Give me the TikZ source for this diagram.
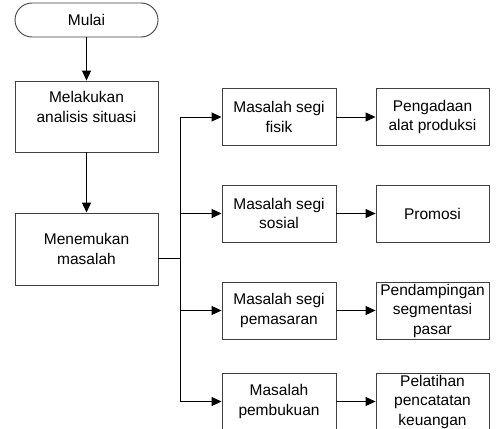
\documentclass[tikz,border=0pt]{standalone}
\usepackage{fontspec}
\setmainfont{Liberation Sans}
\usetikzlibrary{arrows.meta}
\begin{document}
\begin{tikzpicture}[x=1pt,y=-1pt,
  box/.style={draw=black!75,line width=0.9pt,align=center,inner sep=0pt,
    font=\fontsize{15.5}{19.5}\selectfont},
  conn/.style={line width=0.9pt,-{Triangle[length=10pt,width=9pt]}},
  line/.style={line width=0.9pt}]
\useasboundingbox (0,0) rectangle (502,428);
\node[box,rounded corners=17pt,minimum width=143pt,minimum height=34pt] (mulai) at (86.5,20) {Mulai};
\node[box,minimum width=143pt,minimum height=71pt] (b1) at (86.5,116.5) {Melakukan\\analisis situasi\\\mbox{}};
\node[box,minimum width=143pt,minimum height=72pt] (b2) at (86.5,249) {Menemukan\\masalah};
\node[box,minimum width=114pt,minimum height=57pt] (a1) at (279,117) {Masalah segi\\fisik};
\node[box,minimum width=114pt,minimum height=57pt] (a2) at (279,213.5) {Masalah segi\\sosial};
\node[box,minimum width=114pt,minimum height=57pt] (a3) at (279,310.5) {Masalah segi\\pemasaran};
\node[box,minimum width=114pt,minimum height=57pt] (a4) at (279,401.5) {Masalah\\pembukuan};
\node[box,minimum width=113pt,minimum height=57pt] (c1) at (432.5,117) {Pengadaan\\alat produksi};
\node[box,minimum width=113pt,minimum height=57pt] (c2) at (432.5,213.5) {Promosi};
\node[box,minimum width=113pt,minimum height=57pt] (c3) at (432.5,310.5) {Pendampingan\\segmentasi\\pasar};
\node[box,minimum width=113pt,minimum height=57pt] (c4) at (432.5,401.5) {Pelatihan\\pencatatan\\keuangan};
\coordinate (ex) at (158,258);
\coordinate (tr) at (180,258);
\draw[conn] (mulai) -- (b1);
\draw[conn] (b1) -- (b2);
\draw[line] (ex) -- (tr);
\draw[line] (a1.west -| tr) -- (a4.west -| tr);
\foreach \i in {1,2,3,4}{
  \draw[conn] (a\i.west -| tr) -- (a\i.west);
  \draw[conn] (a\i) -- (c\i);
}
\end{tikzpicture}
\end{document}
